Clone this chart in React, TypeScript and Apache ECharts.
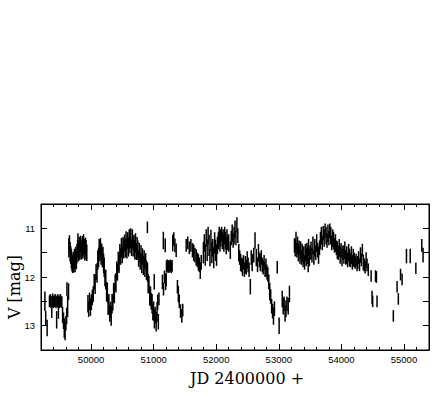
import React, { useEffect, useRef } from "react";
import * as echarts from "echarts";

const xMin = 49200;
const xMax = 55400;
const yMin = 10.5;
const yMax = 13.5;
const xMinorStep = 200;
const yStep = 0.5;
const xMajorTicks = [50000, 51000, 52000, 53000, 54000, 55000];
const yLabelTicks = [11, 12, 13];
const xTitle = "JD 2400000 +";
const yTitle = "V [mag]";

// [JD - 2400000, V mag, half error bar]
const part1 = [
  [49262, 12.5, 0.2], [49275, 12.85, 0.15], [49298, 13.05, 0.17], [49335, 12.5, 0.12],
  [49348, 12.48, 0.13], [49360, 12.52, 0.12], [49372, 12.72, 0.12], [49375, 12.5, 0.12],
  [49388, 12.47, 0.13], [49400, 12.52, 0.12], [49413, 12.5, 0.12], [49426, 12.48, 0.13],
  [49440, 12.52, 0.12], [49450, 12.88, 0.18], [49455, 12.5, 0.12], [49468, 12.48, 0.13],
  [49478, 12.72, 0.14], [49482, 12.5, 0.12], [49495, 12.52, 0.12], [49508, 12.48, 0.13],
  [49520, 12.5, 0.12], [49533, 12.52, 0.12], [49545, 12.78, 0.17], [49560, 12.9, 0.17],
  [49572, 13.05, 0.2], [49585, 13.12, 0.18], [49598, 12.95, 0.15], [49610, 12.8, 0.17],
  [49615, 12.25, 0.14], [49626, 12.6, 0.22], [49640, 12.3, 0.17],
];

const part2 = [
  [49645, 11.4, 0.2], [49655, 11.32, 0.18], [49665, 11.48, 0.2], [49675, 11.55, 0.18],
  [49685, 11.62, 0.2], [49695, 11.7, 0.18], [49705, 11.75, 0.17], [49715, 11.68, 0.2],
  [49725, 11.74, 0.17], [49735, 11.62, 0.2], [49745, 11.72, 0.18], [49755, 11.58, 0.2],
  [49765, 11.66, 0.18], [49775, 11.52, 0.2], [49785, 11.42, 0.18], [49790, 11.25, 0.15],
  [49800, 11.48, 0.2], [49810, 11.36, 0.18], [49820, 11.45, 0.2], [49830, 11.32, 0.17],
  [49840, 11.42, 0.2], [49850, 11.46, 0.18], [49860, 11.36, 0.2], [49870, 11.45, 0.17],
  [49880, 11.32, 0.2], [49890, 11.4, 0.18], [49900, 11.46, 0.2], [49910, 11.36, 0.17],
  [49920, 11.44, 0.2], [49932, 11.5, 0.17],
];

const part3 = [
  [49950, 12.55, 0.18], [49962, 12.66, 0.16], [49975, 12.5, 0.18], [49990, 12.62, 0.18],
  [50005, 12.52, 0.16], [50020, 12.42, 0.16], [50035, 12.35, 0.16], [50050, 12.1, 0.16],
  [50065, 12.15, 0.2], [50080, 11.9, 0.16], [50095, 11.92, 0.2], [50108, 11.65, 0.2],
  [50120, 11.6, 0.2], [50130, 11.42, 0.2], [50140, 11.5, 0.17], [50150, 11.4, 0.2],
  [50160, 11.55, 0.2], [50170, 11.48, 0.17], [50180, 11.6, 0.2], [50190, 11.55, 0.17],
  [50200, 11.72, 0.2], [50210, 11.8, 0.2], [50222, 12.02, 0.17], [50235, 12.05, 0.2],
  [50248, 12.3, 0.2], [50260, 12.32, 0.2], [50272, 12.58, 0.2], [50285, 12.55, 0.2],
  [50298, 12.75, 0.17], [50310, 12.68, 0.17], [50322, 12.8, 0.2], [50335, 12.55, 0.2],
];

const part4 = [
  [50348, 12.52, 0.17], [50360, 12.32, 0.2], [50372, 12.34, 0.2], [50385, 12.12, 0.17],
  [50398, 12.12, 0.2], [50410, 11.88, 0.2], [50422, 11.9, 0.17], [50435, 11.68, 0.2],
  [50448, 11.72, 0.2], [50460, 11.52, 0.2], [50472, 11.58, 0.17], [50485, 11.4, 0.2],
  [50498, 11.55, 0.17], [50510, 11.38, 0.2], [50522, 11.42, 0.2], [50535, 11.3, 0.17],
  [50548, 11.4, 0.2], [50560, 11.26, 0.2], [50572, 11.42, 0.2], [50585, 11.25, 0.17],
  [50598, 11.38, 0.2], [50610, 11.22, 0.2], [50622, 11.34, 0.17], [50635, 11.2, 0.2],
  [50648, 11.4, 0.17], [50660, 11.22, 0.2], [50672, 11.38, 0.2], [50685, 11.3, 0.17],
  [50698, 11.44, 0.2], [50710, 11.3, 0.2], [50722, 11.48, 0.17], [50735, 11.38, 0.2],
  [50748, 11.45, 0.2], [50760, 11.62, 0.17], [50772, 11.5, 0.2], [50785, 11.68, 0.17],
  [50798, 11.55, 0.2], [50810, 11.72, 0.2], [50822, 11.58, 0.17], [50835, 11.76, 0.2],
  [50848, 11.62, 0.17], [50860, 11.8, 0.2], [50872, 11.68, 0.17], [50885, 11.86, 0.2],
  [50900, 10.98, 0.12], [50902, 11.9, 0.2], [50912, 12.14, 0.2], [50925, 12.15, 0.17],
  [50938, 12.38, 0.2], [50950, 12.4, 0.2], [50962, 12.5, 0.17], [50975, 12.55, 0.2],
  [50988, 12.72, 0.17], [51000, 12.7, 0.2], [51010, 12.1, 0.16], [51012, 12.86, 0.2],
  [51025, 12.78, 0.17], [51040, 12.92, 0.2], [51055, 12.72, 0.2], [51065, 12.52, 0.16],
  [51075, 12.92, 0.16],
];

const part5 = [
  [51085, 12.45, 0.13], [51140, 12.1, 0.15], [51155, 11.25, 0.18], [51158, 12.25, 0.13],
  [51172, 12.0, 0.13], [51185, 11.35, 0.14], [51192, 12.1, 0.17], [51200, 12.05, 0.14],
  [51205, 11.78, 0.12], [51218, 11.76, 0.12], [51230, 11.8, 0.12], [51243, 11.77, 0.12],
  [51256, 11.79, 0.12], [51268, 11.76, 0.12], [51282, 11.8, 0.12], [51295, 11.77, 0.12],
  [51305, 11.3, 0.17], [51322, 11.22, 0.14], [51340, 11.35, 0.14], [51360, 11.45, 0.14],
  [51380, 12.2, 0.14], [51395, 12.35, 0.17], [51410, 12.5, 0.14], [51430, 12.7, 0.14],
  [51450, 12.8, 0.14], [51465, 12.68, 0.13], [51520, 11.35, 0.13], [51545, 11.3, 0.13],
  [51570, 11.4, 0.13], [51595, 11.35, 0.13], [51620, 11.45, 0.15], [51640, 11.5, 0.17],
  [51660, 11.55, 0.15], [51680, 11.6, 0.17], [51700, 11.65, 0.15], [51715, 11.7, 0.17],
  [51730, 11.75, 0.15], [51745, 11.87, 0.17], [51760, 11.7, 0.15],
];

const part6 = [
  [51795, 11.5, 0.22], [51810, 11.3, 0.18], [51825, 11.55, 0.22], [51840, 11.2, 0.18],
  [51855, 11.45, 0.22], [51870, 11.15, 0.18], [51885, 11.35, 0.22], [51900, 11.6, 0.18],
  [51915, 11.25, 0.22], [51930, 11.5, 0.22], [51945, 11.4, 0.18], [51960, 11.6, 0.22],
  [51975, 11.3, 0.22], [51990, 11.45, 0.22], [52005, 11.55, 0.22], [52020, 11.35, 0.18],
  [52035, 11.25, 0.18], [52048, 11.15, 0.18], [52060, 11.3, 0.18], [52072, 11.2, 0.18],
  [52085, 11.12, 0.15], [52098, 11.25, 0.18], [52110, 11.2, 0.18], [52122, 11.3, 0.18],
  [52135, 11.15, 0.18], [52148, 11.25, 0.18], [52160, 11.35, 0.18], [52172, 11.2, 0.18],
  [52185, 11.3, 0.15], [52200, 11.3, 0.18], [52225, 11.45, 0.18], [52240, 11.2, 0.15],
  [52255, 11.1, 0.18], [52270, 11.25, 0.15], [52285, 11.15, 0.18], [52300, 11.02, 0.18],
  [52315, 11.2, 0.15], [52330, 10.92, 0.15], [52345, 11.15, 0.15],
];

const part7 = [
  [52360, 11.5, 0.18], [52375, 11.6, 0.15], [52390, 11.7, 0.18], [52405, 11.75, 0.15],
  [52420, 11.8, 0.18], [52435, 11.7, 0.15], [52450, 11.85, 0.15], [52465, 11.75, 0.18],
  [52480, 11.8, 0.15], [52495, 11.65, 0.18], [52510, 11.75, 0.15], [52525, 11.85, 0.15],
  [52545, 12.2, 0.16], [52560, 11.6, 0.15], [52575, 11.7, 0.18], [52600, 11.55, 0.15],
  [52620, 11.25, 0.17], [52640, 11.6, 0.18], [52660, 11.75, 0.15], [52675, 11.5, 0.18],
  [52690, 11.65, 0.15], [52705, 11.7, 0.18], [52720, 11.6, 0.15], [52735, 11.75, 0.15],
  [52750, 11.8, 0.15], [52765, 11.7, 0.15], [52780, 11.85, 0.15], [52795, 11.8, 0.18],
  [52810, 11.9, 0.15], [52825, 11.95, 0.15], [52840, 12.1, 0.15], [52855, 12.3, 0.18],
  [52870, 12.4, 0.15], [52885, 12.6, 0.15], [52900, 12.7, 0.15], [52915, 12.8, 0.18],
  [52930, 12.65, 0.15], [52975, 11.8, 0.13], [53005, 13.0, 0.17], [53055, 12.45, 0.17],
  [53070, 12.6, 0.17], [53085, 12.55, 0.15], [53100, 12.75, 0.17], [53115, 12.65, 0.17],
  [53130, 12.55, 0.15], [53150, 12.6, 0.17], [53170, 12.35, 0.17],
];

const part8 = [
  [53250, 11.35, 0.15], [53262, 11.4, 0.18], [53275, 11.25, 0.18], [53288, 11.45, 0.15],
  [53300, 11.35, 0.18], [53312, 11.5, 0.18], [53325, 11.4, 0.15], [53338, 11.55, 0.18],
  [53350, 11.45, 0.18], [53362, 11.6, 0.15], [53375, 11.5, 0.18], [53388, 11.65, 0.15],
  [53400, 11.55, 0.18], [53412, 11.7, 0.15], [53425, 11.5, 0.18], [53438, 11.6, 0.18],
  [53450, 11.45, 0.15], [53462, 11.55, 0.18], [53470, 11.75, 0.15], [53475, 11.4, 0.18],
  [53488, 11.6, 0.18], [53500, 11.5, 0.15], [53515, 11.45, 0.18], [53530, 11.55, 0.15],
  [53545, 11.35, 0.18], [53560, 11.6, 0.15], [53575, 11.4, 0.18], [53590, 11.5, 0.15],
  [53605, 11.3, 0.18], [53620, 11.45, 0.15], [53635, 11.55, 0.18], [53650, 11.4, 0.15],
  [53665, 11.25, 0.18], [53680, 11.15, 0.18], [53695, 11.3, 0.15], [53710, 11.1, 0.15],
  [53725, 11.2, 0.18], [53740, 11.05, 0.15], [53755, 11.15, 0.18], [53770, 11.25, 0.15],
  [53785, 11.1, 0.18], [53800, 11.2, 0.15], [53815, 11.05, 0.15], [53830, 11.15, 0.18],
  [53845, 11.3, 0.15], [53860, 11.2, 0.18], [53875, 11.25, 0.18], [53890, 11.35, 0.15],
  [53905, 11.3, 0.18], [53920, 11.4, 0.15],
];

const part9 = [
  [53935, 11.45, 0.18], [53950, 11.5, 0.15], [53965, 11.4, 0.18], [53980, 11.55, 0.18],
  [53995, 11.45, 0.15], [54010, 11.6, 0.18], [54025, 11.5, 0.15], [54040, 11.55, 0.18],
  [54055, 11.45, 0.18], [54070, 11.6, 0.15], [54085, 11.55, 0.18], [54100, 11.65, 0.15],
  [54115, 11.5, 0.18], [54130, 11.6, 0.18], [54145, 11.65, 0.15], [54160, 11.55, 0.18],
  [54175, 11.7, 0.15], [54190, 11.6, 0.18], [54205, 11.65, 0.15], [54220, 11.7, 0.13],
  [54235, 11.65, 0.13], [54250, 11.75, 0.13], [54262, 11.7, 0.13], [54275, 11.6, 0.13],
  [54290, 11.75, 0.13], [54305, 11.55, 0.16], [54320, 11.65, 0.13], [54335, 11.45, 0.13],
  [54350, 11.7, 0.16], [54365, 11.75, 0.13], [54380, 11.8, 0.13], [54395, 11.65, 0.16],
  [54410, 11.75, 0.13], [54430, 11.85, 0.13], [54475, 11.98, 0.12], [54490, 12.42, 0.14],
  [54500, 12.5, 0.12], [54545, 11.98, 0.12], [54560, 12.0, 0.12], [54570, 12.5, 0.12],
];

const part10 = [
  [54830, 12.8, 0.12], [54890, 12.2, 0.12], [54910, 12.45, 0.12], [54945, 11.95, 0.12],
  [54970, 12.05, 0.12], [55040, 11.57, 0.15], [55100, 11.57, 0.15], [55190, 11.82, 0.12],
  [55285, 11.35, 0.13], [55305, 11.55, 0.15],
];

export default function App() {
  const ref = useRef<HTMLDivElement>(null);

  useEffect(() => {
    if (!ref.current) return;
    const chart = echarts.init(ref.current, null, { renderer: "svg" });
    const data = [
      ...part1, ...part2, ...part3, ...part4, ...part5,
      ...part6, ...part7, ...part8, ...part9, ...part10,
    ];
    const black = { color: "#000", width: 1 };
    const labelFont = {
      color: "#000",
      fontFamily: "Liberation Sans, Arial, sans-serif",
      fontSize: 9.5,
    };
    const plain = (v: number) => String(v);
    const baseX = {
      type: "value",
      min: xMin,
      max: xMax,
      splitLine: { show: false },
    };
    const baseY = {
      type: "value",
      min: yMin,
      max: yMax,
      inverse: true,
      interval: yStep,
      splitLine: { show: false },
    };
    chart.setOption({
      animation: false,
      backgroundColor: "#fff",
      grid: {
        left: 41,
        right: 10,
        top: 204,
        bottom: 49,
        show: true,
        borderColor: "#000",
        borderWidth: 1,
      },
      xAxis: [
        {
          ...baseX,
          position: "bottom",
          interval: xMinorStep,
          axisLine: { show: true, lineStyle: black },
          axisTick: { show: true, inside: true, length: 3, lineStyle: black },
          axisLabel: { show: true, customValues: xMajorTicks, margin: 4, formatter: plain, ...labelFont },
        },
        {
          ...baseX,
          position: "bottom",
          axisLine: { show: false },
          axisTick: { show: true, inside: true, length: 6, lineStyle: black, customValues: xMajorTicks },
          axisLabel: { show: false },
        },
        {
          ...baseX,
          position: "top",
          interval: xMinorStep,
          axisLine: { show: true, lineStyle: black },
          axisTick: { show: true, inside: true, length: 3, lineStyle: black },
          axisLabel: { show: false },
        },
        {
          ...baseX,
          position: "top",
          axisLine: { show: false },
          axisTick: { show: true, inside: true, length: 6, lineStyle: black, customValues: xMajorTicks },
          axisLabel: { show: false },
        },
      ],
      yAxis: [
        {
          ...baseY,
          position: "left",
          axisLine: { show: true, lineStyle: black },
          axisTick: { show: true, inside: true, length: 6, lineStyle: black },
          axisLabel: { show: true, customValues: yLabelTicks, margin: 6, formatter: plain, ...labelFont },
        },
        {
          ...baseY,
          position: "right",
          axisLine: { show: true, lineStyle: black },
          axisTick: { show: true, inside: true, length: 6, lineStyle: black },
          axisLabel: { show: false },
        },
      ],
      series: [
        {
          type: "custom",
          xAxisIndex: 0,
          yAxisIndex: 0,
          clip: true,
          encode: { x: 0, y: 1 },
          data,
          renderItem: (params: any, api: any) => {
            const x = api.value(0);
            const y = api.value(1);
            const e = api.value(2);
            const p1 = api.coord([x, y - e]);
            const p2 = api.coord([x, y + e]);
            return {
              type: "line",
              shape: { x1: p1[0], y1: p1[1], x2: p2[0], y2: p2[1] },
              style: { stroke: "#000", lineWidth: 1.5 },
            };
          },
        },
      ],
      graphic: [
        {
          type: "text",
          x: 247,
          y: 378,
          style: {
            text: xTitle,
            fontFamily: "DejaVu Serif",
            fontSize: 16,
            fill: "#000",
            align: "center",
            verticalAlign: "middle",
          },
        },
        {
          type: "text",
          x: 14,
          y: 287,
          rotation: Math.PI / 2,
          style: {
            text: yTitle,
            fontFamily: "DejaVu Serif",
            fontSize: 16,
            fill: "#000",
            align: "center",
            verticalAlign: "middle",
          },
        },
      ],
    });
    return () => chart.dispose();
  }, []);

  return (
    <div
      ref={ref}
      style={{ position: "fixed", left: 0, top: 0, width: 439, height: 399 }}
    />
  );
}
